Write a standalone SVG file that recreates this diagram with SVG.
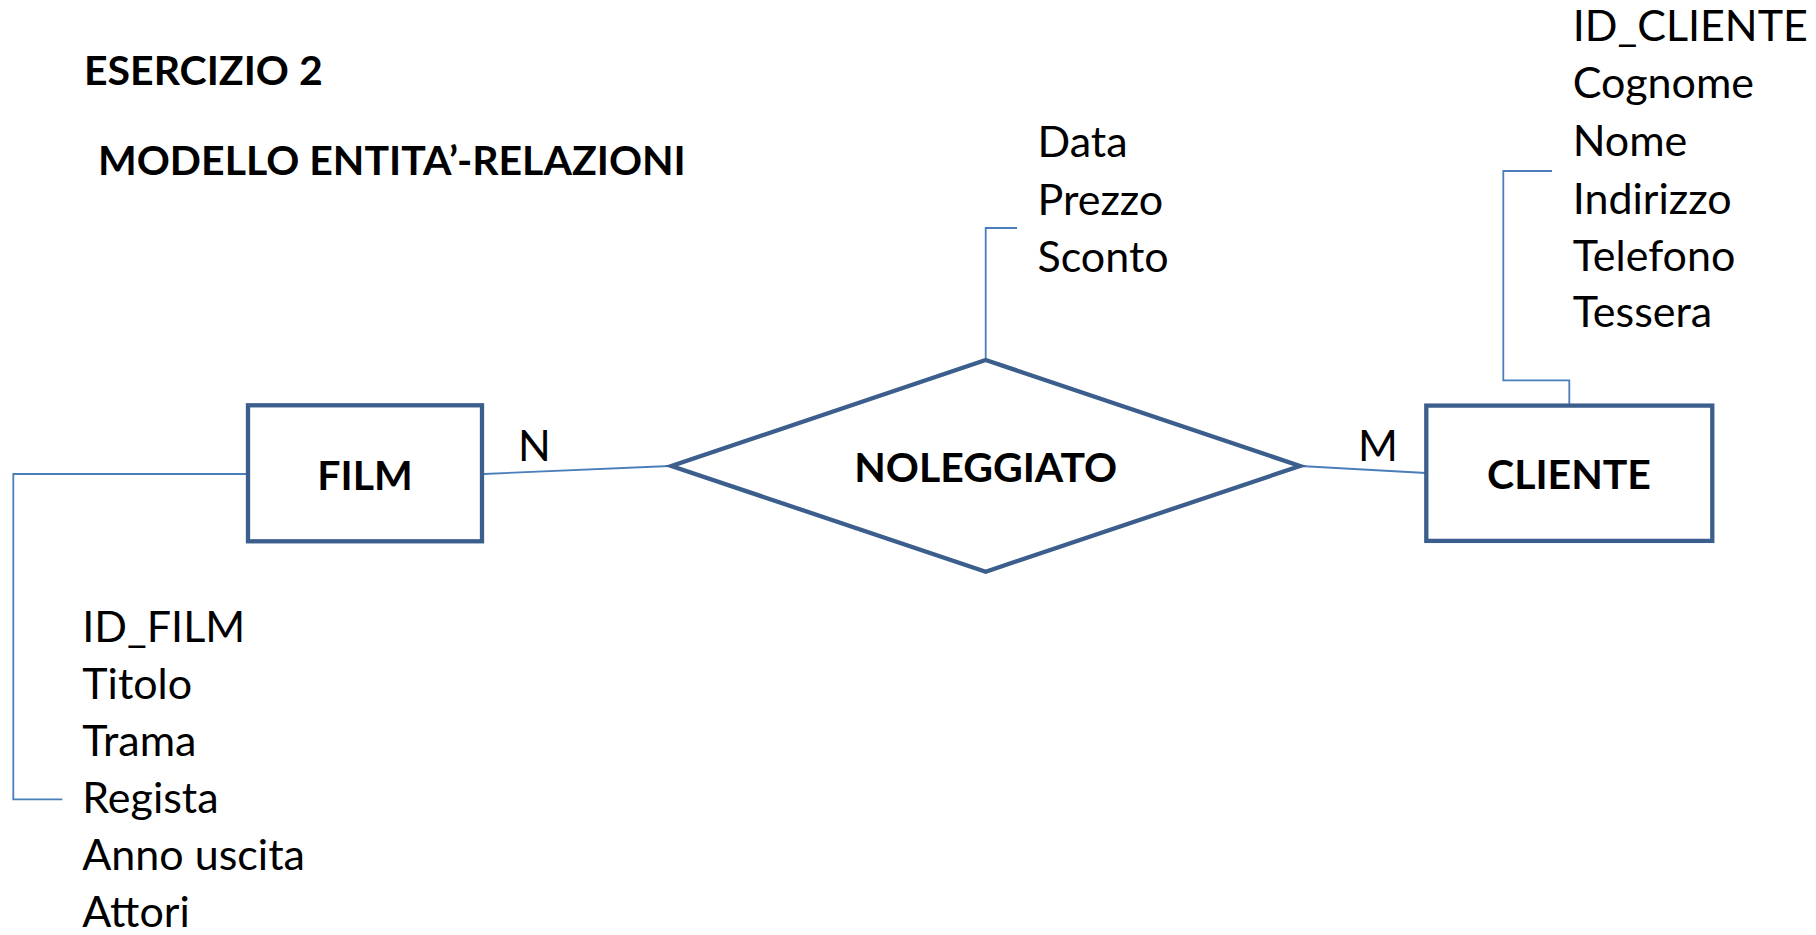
<svg xmlns="http://www.w3.org/2000/svg" width="1816" height="935" viewBox="0 0 1816 935">
<style>
.shape{fill:#fff;stroke:#3B5E8C;stroke-width:4.3}
.conn{fill:none;stroke:#4A7EBB;stroke-width:1.8}
text{font-family:Lato,"Open Sans",sans-serif;font-size:43px;fill:#000}
.b{font-weight:bold;font-size:41px}
.c{text-anchor:middle}
</style>
<rect width="1816" height="935" fill="#fff"/>
<g id="titles">
<text class="b" x="84" y="85">ESERCIZIO 2</text>
<text class="b" x="98" y="175">MODELLO ENTITA’-RELAZIONI</text>
</g>
<g id="connectors">
<polyline class="conn" points="484,474 670,466"/>
<polyline class="conn" points="1300,466 1426,473"/>
<polyline class="conn" points="1017,228 985.7,228 985.7,360"/>
<polyline class="conn" points="1552,171 1503.3,171 1503.3,380.4 1569.3,380.4 1569.3,405"/>
<polyline class="conn" points="246,474 13.3,474 13.3,799.3 62.3,799.3"/>
</g>
<g id="film">
<rect class="shape" x="248" y="405.3" width="234" height="136"/>
<text class="b c" x="365" y="490">FILM</text>
</g>
<g id="noleggiato">
<polygon class="shape" points="985.7,360 1300,466 985.7,571.7 671.4,466"/>
<text class="b c" x="985.7" y="482">NOLEGGIATO</text>
</g>
<g id="cliente">
<rect class="shape" x="1426.3" y="405.6" width="286" height="135.3"/>
<text class="b c" x="1569" y="489.3">CLIENTE</text>
</g>
<g id="cardinality">
<text x="518" y="460.7">N</text>
<text x="1358" y="460.7">M</text>
</g>
<g id="attr-film">
<text x="82.3" y="641.7">ID_FILM</text>
<text x="82.3" y="698.5">Titolo</text>
<text x="82.3" y="755.5">Trama</text>
<text x="82.3" y="812.7">Regista</text>
<text x="82.3" y="870">Anno uscita</text>
<text x="82.3" y="927">Attori</text>
</g>
<g id="attr-noleggiato">
<text x="1037.5" y="156.7">Data</text>
<text x="1037.5" y="214.5">Prezzo</text>
<text x="1037.5" y="271.7">Sconto</text>
</g>
<g id="attr-cliente">
<text x="1572.7" y="41">ID_CLIENTE</text>
<text x="1572.7" y="98">Cognome</text>
<text x="1572.7" y="155.5">Nome</text>
<text x="1572.7" y="213.5">Indirizzo</text>
<text x="1572.7" y="271">Telefono</text>
<text x="1572.7" y="327">Tessera</text>
</g>
</svg>
